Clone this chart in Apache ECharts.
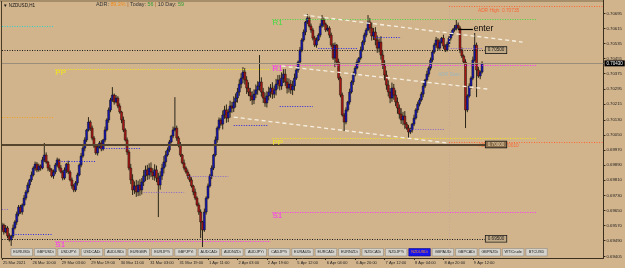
<!DOCTYPE html>
<html><head><meta charset="utf-8">
<script src="https://cdn.jsdelivr.net/npm/echarts@6/dist/echarts.min.js"></script>
<style>html,body{margin:0;padding:0;background:#d2b48c}#c{width:625px;height:268px}</style>
</head><body><div id="c"></div><script>
// ---- DATA (prices in MT4 points, 1 point = 0.00001) ----
const opens = [
69547,69573,69536,69557,69515,69494,69515,69557,69589,69631,
69668,69642,69679,69716,69748,69785,69812,69838,69875,69896,
69865,69886,69875,69918,69944,69907,69875,69865,69833,69854,
69891,69918,69875,69854,69822,69865,69896,69854,69812,69780,
69759,69796,69838,69891,69939,69981,70024,70077,70119,70087,
70034,69992,69955,69986,70008,69976,70024,70077,70130,70183,
70236,70262,70225,70246,70204,70172,70130,70077,70024,69960,
69875,69812,69759,69780,69748,69785,69759,69801,69833,69865,
69838,69875,69854,69833,69865,69822,69785,69833,69875,69907,
69944,69971,70013,70045,70077,70087,70034,69997,69944,69902,
69875,69854,69833,69812,69780,69748,69716,69679,69642,69589,
69547,69642,69716,69780,69833,69875,69944,70024,70087,70130,
70108,70156,70183,70140,70172,70204,70193,70225,70246,70278,
70320,70352,70384,70342,70299,70278,70257,70236,70267,70289,
70310,70331,70278,70246,70220,70257,70278,70299,70267,70289,
70320,70342,70310,70352,70373,70331,70299,70320,70289,70310,
70352,70395,70437,70501,70554,70596,70649,70670,70628,70607,
70564,70527,70554,70580,70628,70660,70638,70607,70617,70580,
70527,70458,70527,70437,70352,70262,70156,70119,70183,70225,
70278,70331,70373,70405,70437,70458,70501,70543,70580,70607,
70649,70617,70575,70596,70554,70511,70543,70474,70421,70368,
70315,70278,70246,70299,70262,70225,70193,70161,70130,70151,
70108,70087,70066,70077,70108,70140,70183,70214,70236,70267,
70310,70342,70373,70405,70448,70490,70527,70554,70511,70543,
70564,70522,70501,70532,70564,70585,70607,70617,70633,70617,
70501,70469,70437,70183,70257,70310,70352,70448,70527,70395,
70363,70384];
const closes = [
69573,69536,69557,69515,69494,69515,69557,69589,69631,69668,
69642,69679,69716,69748,69785,69812,69838,69875,69896,69865,
69886,69875,69918,69944,69907,69875,69865,69833,69854,69891,
69918,69875,69854,69822,69865,69896,69854,69812,69780,69759,
69796,69838,69891,69939,69981,70024,70077,70119,70087,70034,
69992,69955,69986,70008,69976,70024,70077,70130,70183,70236,
70262,70225,70246,70204,70172,70130,70077,70024,69960,69875,
69812,69759,69780,69748,69785,69759,69801,69833,69865,69838,
69875,69854,69833,69865,69822,69785,69833,69875,69907,69944,
69971,70013,70045,70077,70087,70034,69997,69944,69902,69875,
69854,69833,69812,69780,69748,69716,69679,69642,69589,69547,
69642,69716,69780,69833,69875,69944,70024,70087,70130,70108,
70156,70183,70140,70172,70204,70193,70225,70246,70278,70320,
70352,70384,70342,70299,70278,70257,70236,70267,70289,70310,
70331,70278,70246,70220,70257,70278,70299,70267,70289,70320,
70342,70310,70352,70373,70331,70299,70320,70289,70310,70352,
70395,70437,70501,70554,70596,70649,70670,70628,70607,70564,
70527,70554,70580,70628,70660,70638,70607,70617,70580,70527,
70458,70527,70437,70352,70262,70156,70119,70183,70225,70278,
70331,70373,70405,70437,70458,70501,70543,70580,70607,70649,
70617,70575,70596,70554,70511,70543,70474,70421,70368,70315,
70278,70246,70299,70262,70225,70193,70161,70130,70151,70108,
70087,70066,70077,70108,70140,70183,70214,70236,70267,70310,
70342,70373,70405,70448,70490,70527,70554,70511,70543,70564,
70522,70501,70532,70564,70585,70607,70617,70633,70617,70501,
70469,70437,70183,70257,70310,70352,70448,70527,70395,70363,
70384,70430];
const highs = [
69585,69581,69573,69567,69529,69521,69575,69598,69644,69679,
69680,69687,69732,69758,69799,69818,69856,69884,69909,69907,
69898,69894,69934,70008,69958,69913,69893,69874,69867,69902,
69930,69926,69891,69863,69878,69902,69914,69863,69825,69791,
69806,69850,69899,69955,69991,70038,70083,70145,70128,70100,
70045,70000,70002,70018,70022,70030,70095,70139,70196,70247,
70304,70270,70262,70256,70218,70178,70148,70086,70037,69971,
69897,69842,69804,69812,69808,69816,69822,69864,69888,69892,
69900,69905,69874,69895,69888,69850,69858,69897,69938,69966,
69984,70024,70051,70095,70251,70100,70044,70013,69950,69920,
69884,69867,69844,69826,69786,69766,69725,69692,69656,69595,
69660,69725,69793,69844,69889,69950,70042,70096,70143,70141,
70180,70205,70212,70190,70232,70226,70255,70270,70300,70345,
70378,70410,70405,70362,70330,70300,70282,70292,70318,70335,
70474,70356,70300,70275,70282,70306,70320,70330,70312,70348,
70368,70369,70382,70399,70400,70352,70350,70342,70338,70376,
70407,70445,70517,70564,70610,70655,70691,70679,70641,70618,
70576,70568,70590,70642,70686,70672,70646,70633,70627,70593,
70538,70541,70533,70455,70361,70275,70167,70197,70231,70296,
70340,70386,70416,70451,70464,70519,70552,70593,70618,70686,
70670,70646,70618,70622,70578,70562,70574,70496,70447,70392,
70340,70299,70328,70321,70288,70249,70212,70192,70173,70177,
70119,70103,70089,70114,70158,70192,70227,70247,70279,70326,
70348,70391,70414,70461,70501,70539,70570,70564,70557,70570,
70582,70531,70545,70575,70597,70615,70633,70660,70647,70628,
70514,70477,70452,70266,70324,70361,70466,70591,70540,70411,
70392,70441];
const lows = [
69537,69522,69529,69503,69485,69462,69504,69549,69574,69619,
69632,69628,69672,69704,69739,69768,69801,69830,69860,69853,
69855,69861,69868,69906,69898,69858,69854,69825,69818,69842,
69881,69861,69847,69810,69813,69848,69843,69804,69765,69747,
69749,69782,69831,69879,69930,69964,70013,70069,70072,70022,
69982,69945,69941,69979,69964,69967,70012,70069,70115,70171,
70226,70211,70218,70192,70163,70113,70066,70016,69945,69863,
69790,69732,69738,69722,69726,69728,69735,69780,69805,69812,
69815,69826,69812,69808,69800,69615,69760,69812,69846,69882,
69936,69959,70006,70033,70069,70019,69985,69934,69895,69863,
69845,69818,69800,69771,69731,69705,69671,69627,69504,69456,
69537,69628,69709,69771,69816,69864,69936,70009,70075,70098,
70080,70136,70115,70118,70142,70168,70172,70196,70222,70258,
70298,70325,70318,70268,70256,70230,70210,70214,70246,70264,
70285,70254,70220,70200,70196,70234,70248,70242,70246,70260,
70295,70287,70290,70326,70310,70270,70275,70268,70262,70285,
70342,70381,70430,70489,70545,70579,70638,70620,70592,70552,
70517,70513,70547,70568,70619,70623,70596,70599,70565,70515,
70448,70410,70423,70341,70250,70148,70071,70107,70174,70211,
70270,70316,70361,70398,70425,70449,70493,70528,70568,70600,
70590,70551,70554,70526,70486,70488,70450,70400,70340,70290,
70255,70219,70226,70237,70203,70163,70137,70109,70102,70083,
70078,70034,70055,70063,70097,70132,70168,70202,70227,70250,
70299,70334,70358,70393,70436,70481,70513,70499,70502,70535,
70507,70490,70493,70517,70552,70576,70598,70605,70609,70484,
70458,70429,70087,70171,70248,70295,70341,70439,70251,70353,
70346,70376];

// time axis: one tick label every 16 H1 bars
const timeLabels = ["25 Mar 2021","26 Mar 10:00","29 Mar 03:00","29 Mar 19:00","30 Mar 11:00","31 Mar 03:00","31 Mar 19:00","1 Apr 11:00","2 Apr 03:00","2 Apr 19:00","5 Apr 12:00","6 Apr 04:00","6 Apr 20:00","7 Apr 12:00","8 Apr 04:00","8 Apr 20:00","9 Apr 12:00"];
const barsPerLabel = 16;
const totalSlots = 328; // bars + empty chart shift area
// price scale labels
const priceTicks = [0.70695,0.70615,0.70535,0.70455,0.70375,0.70295,0.70215,0.70130,0.70050,0.69970,0.69890,0.69810,0.69730,0.69650,0.69570,0.69490,0.69405];
const priceMin = 0.69398, priceMax = 0.70766;

// overlay levels
const bidPrice = 0.70430;
const boxLevels = [0.70500, 0.70000, 0.69500];          // horizontal line objects with price box
const boxLevelEndBar = 263;
const adrHigh = 0.70735, adrLow = 0.70010, adrStartBar = 243;
// pivot lines [startBar, endBar, price, name]
const pivotLines = [[29,146,0.70400,'PP'],[29,146,0.69488,'S1'],[147,291,0.70031,'PP'],[147,291,0.70665,'R1'],[147,291,0.70421,'R1m'],[147,291,0.69642,'S1']];
const prevDayLines = [[0,28,0.70628,'cyan'],[0,28,0.70145,'orange']];
// short support/resistance segments [startBar, endBar, price]
const blueSegs = [[6,27,0.69525],[31,51,0.69912],[54,75,0.69981],[126,145,0.70103],[151,169,0.70204],[172,193,0.70511],[202,217,0.70569]];
const purpleSegs = [[0,4,0.69658],[77,99,0.69748],[101,123,0.69833],[222,241,0.70082],[244,261,0.70511]];
// channel lines [[bar, price],[bar, price]]
const channelLines = [[[164,0.70686],[283,0.70543]],[[152,0.70416],[264,0.70294]],[[126,0.70145],[242,0.70008]]];
const enterLine = [248, 256, 0.70612];
const symbols = ["EURUSDi","GBPUSDi","USDJPYi","USDCADi","AUDUSDi","EURGBPi","EURJPYi","GBPJPYi","AUDCADi","AUDNZDi","AUDJPYi","CADJPYi","EURAUDi","EURCADi","EURNZDi","NZDCADi","NZDJPYi","NZDUSDi","GBPAUDi","GBPCADi","GBPNZDi","WTICrude","BTCUSD"];
const activeSymbol = "NZDUSDi";

// ---- BUILD ----
const POINT = 0.00001;
const toPrice = v => +(v * POINT).toFixed(5);
const candles = opens.map((o, i) => [i, toPrice(o), toPrice(closes[i]), toPrice(lows[i]), toPrice(highs[i])]);
const cats = [];
for (let i = 0; i < totalSlots; i++) {
  const k = i / barsPerLabel;
  cats.push(i % barsPerLabel === 0 && k < timeLabels.length ? timeLabels[k] : '');
}
const FONT = 'Liberation Sans, Arial, sans-serif';
const dot = [1, 1.5];
const ml = [];
const seg = (a, b, p, ls, label) => ml.push([{coord: [a, p], lineStyle: ls, label: label || {show: false}}, {coord: [b, p]}]);

prevDayLines.forEach(([a, b, p, c]) => seg(a, b, p, {color: c === 'cyan' ? '#2fd3c8' : '#f0a028', type: dot, width: 1}));
blueSegs.forEach(([a, b, p]) => seg(a, b, p, {color: '#2626e6', type: dot, width: 1}));
purpleSegs.forEach(([a, b, p]) => seg(a, b, p, {color: '#8866cc', type: dot, width: 1}));
const pivColor = {PP: '#f4e61a', R1: '#3fdc3f', R1m: '#ff2cff', S1: '#ff2cff'};
pivotLines.forEach(([a, b, p, n]) => seg(a, b, p, {color: pivColor[n], type: dot, width: 1},
  {show: true, position: 'insideStartBottom', distance: 0, formatter: n.slice(0, 2), color: pivColor[n], fontSize: 8, fontFamily: FONT}));
channelLines.forEach(([s, e]) => ml.push([{coord: s, lineStyle: {color: '#f6efe0', type: [4, 3], width: 1.3}, label: {show: false}}, {coord: e}]));
seg(adrStartBar, totalSlots - 1, adrHigh, {color: '#ff6633', type: dot, width: 1});
seg(adrStartBar, totalSlots - 1, adrLow, {color: '#ff6633', type: dot, width: 1});
ml.push({xAxis: adrStartBar, lineStyle: {color: '#c9a89a', type: [1, 2], width: 1}, label: {show: false}});
ml.push({yAxis: bidPrice, lineStyle: {color: '#9a8e7a', type: 'solid', width: 1},
  label: {show: true, position: 'end', distance: 1, formatter: bidPrice.toFixed(5), color: '#ffffff', backgroundColor: '#000000', padding: [1, 2, 0, 2], fontSize: 4.5, fontFamily: FONT}});
boxLevels.forEach((p, k) => seg(0, boxLevelEndBar, p,
  k === 1 ? {color: '#55452e', type: 'solid', width: 2} : {color: '#1a1a1a', type: dot, width: 1},
  {show: true, position: 'end', distance: 0, formatter: p.toFixed(5), color: k === 1 ? '#f0d8b0' : '#1a1a1a',
   backgroundColor: k === 1 ? '#8a6e4c' : '#c2aa86', borderColor: '#1a1a1a', borderWidth: 0.8, padding: [1, 2, 0, 2], fontSize: 4.6, fontFamily: FONT}));
seg(enterLine[0], enterLine[1], enterLine[2], {color: '#000000', type: 'solid', width: 1.2},
  {show: true, position: 'end', distance: 1, formatter: 'enter', color: '#000000', fontSize: 8.5, fontFamily: FONT});

const textItems = [
  {value: [270, 0.70712], label: {formatter: 'ADR High: ' + adrHigh.toFixed(5), color: '#ff5522'}},
  {value: [270, 0.69992], label: {formatter: 'ADR Low: ' + adrLow.toFixed(5), color: '#ff5522'}},
  {value: [243, 0.70368], label: {formatter: 'ADR Start', color: '#8fb6c8'}}
];

const graphics = [
  {type: 'line', shape: {x1: 0, y1: 1, x2: 604, y2: 1}, style: {stroke: '#7d6848', lineWidth: 1}, silent: true},
  {type: 'line', shape: {x1: 1.5, y1: 1, x2: 1.5, y2: 258}, style: {stroke: '#4a3d28', lineWidth: 1}, silent: true},
  {type: 'text', left: 3, top: 3, style: {text: '▼ NZDUSD,H1', fill: '#111', font: '4.6px ' + FONT}},
  {type: 'text', left: 96, top: 2.5, style: {
    text: '{a|ADR: }{b|89.3%}{c| | }{a|Today: }{d|56}{c| | }{a|10 Day: }{d|59}',
    rich: {a: {fill: '#333', font: '5.4px ' + FONT}, b: {fill: '#f08a1c', font: '5.4px ' + FONT},
           c: {fill: '#b05a20', font: '5.4px ' + FONT}, d: {fill: '#2f9a2f', font: '5.4px ' + FONT}}}}
];
symbols.forEach((s, k) => {
  const x = 11 + k * 23.4, on = s === activeSymbol;
  graphics.push({type: 'rect', shape: {x: x, y: 248.5, width: 21.5, height: 7.5},
    style: {fill: on ? '#1414ee' : '#d6d3cc', stroke: on ? '#0a0a80' : '#8f8a80', lineWidth: 0.6}, silent: true});
  graphics.push({type: 'text', x: x + 10.75, y: 252.4, style: {text: s, fill: on ? '#ff8a2a' : '#222', font: '3.8px ' + FONT, align: 'center', verticalAlign: 'middle'}, silent: true});
});

function renderCandle(params, api) {
  const x = api.value(0), o = api.value(1), c = api.value(2), l = api.value(3), h = api.value(4);
  const pO = api.coord([x, o]), pC = api.coord([x, c]), pL = api.coord([x, l]), pH = api.coord([x, h]);
  const w = 2;
  const top = Math.min(pO[1], pC[1]), hgt = Math.max(1, Math.abs(pO[1] - pC[1]));
  return {type: 'group', children: [
    {type: 'line', shape: {x1: pH[0], y1: pH[1], x2: pL[0], y2: pL[1]}, style: {stroke: '#2a2519', lineWidth: 1}},
    {type: 'rect', shape: {x: pO[0] - w / 2, y: top, width: w, height: hgt},
     style: {fill: c >= o ? '#1616b8' : '#ac1616', stroke: '#15120c', lineWidth: 0.5}}
  ]};
}

const chart = echarts.init(document.getElementById('c'), null, {renderer: 'canvas'});
chart.setOption({
  animation: false,
  backgroundColor: '#d2b48c',
  grid: {left: 0, right: 21, top: 0, bottom: 10},
  xAxis: {
    type: 'category', data: cats, boundaryGap: false,
    axisLine: {lineStyle: {color: '#3a2f1f', width: 1}},
    axisTick: {length: 2, lineStyle: {color: '#3a2f1f'}, interval: (i, v) => v !== ''},
    axisLabel: {interval: (i, v) => v !== '', align: 'left', margin: 3, fontSize: 4, color: '#1e1e1e', fontFamily: FONT, padding: [0, 0, 0, 1]},
    splitLine: {show: false}
  },
  yAxis: {
    type: 'value', position: 'right', min: priceMin, max: priceMax, scale: true,
    axisLine: {show: true, lineStyle: {color: '#3a2f1f', width: 1}},
    axisTick: {show: true, length: 2, customValues: priceTicks, lineStyle: {color: '#3a2f1f'}},
    axisLabel: {customValues: priceTicks, formatter: v => v.toFixed(5), margin: 3, fontSize: 4.3, color: '#1e1e1e', fontFamily: FONT},
    splitLine: {show: false}
  },
  series: [
    {type: 'scatter', data: textItems, symbolSize: 1, itemStyle: {color: 'rgba(0,0,0,0)'}, z: 1, silent: true,
     label: {show: true, position: 'inside', fontSize: 4.8, fontFamily: FONT}},
    {type: 'custom', data: candles, renderItem: renderCandle, clip: true, z: 3, silent: true,
     encode: {x: 0, y: [1, 2, 3, 4]},
     markLine: {symbol: 'none', silent: true, animation: false, precision: 5, data: ml}}
  ],
  graphic: graphics
});
</script></body></html>
